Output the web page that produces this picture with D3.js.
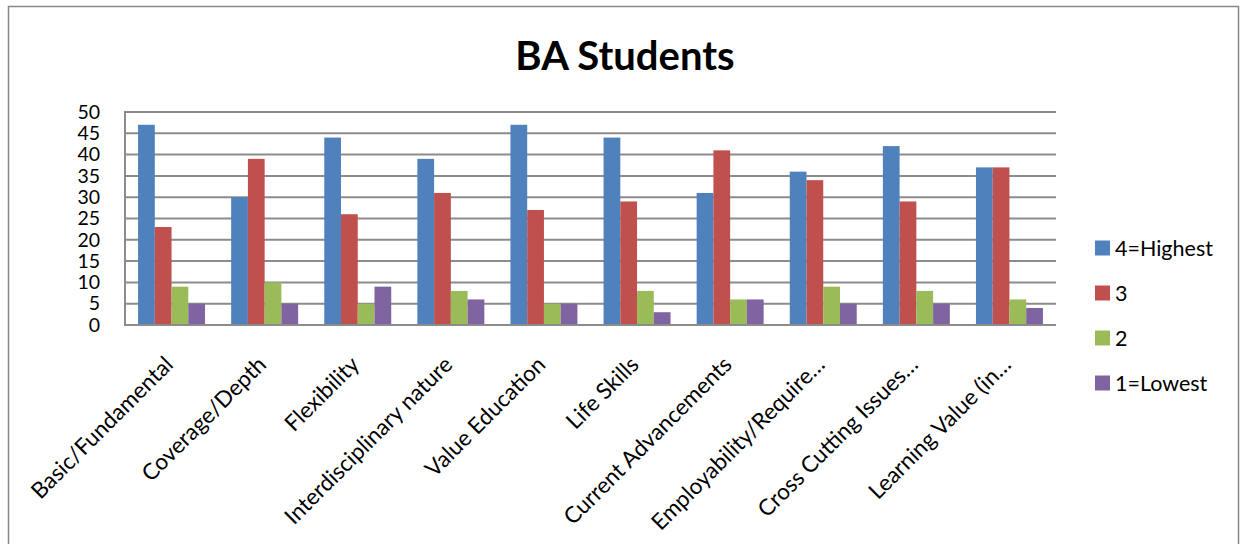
<!DOCTYPE html>
<html><head><meta charset="utf-8">
<script src="https://cdn.jsdelivr.net/npm/d3@7"></script>
<style>body{margin:0;background:#fff}svg{display:block}text{font-family:Lato,"Open Sans",sans-serif}</style>
</head><body><svg id="c" width="1243" height="544"></svg>
<script>
const categories = ["Basic/Fundamental","Coverage/Depth","Flexibility","Interdisciplinary nature","Value Education","Life Skills","Current Advancements","Employability/Require…","Cross Cutting Issues…","Learning Value (in…"];
const seriesNames = ["4=Highest","3","2","1=Lowest"];
const highest = [47,30,44,39,47,44,31,36,42,37];
const three   = [23,39,26,31,27,29,41,34,29,37];
const two     = [9,10,5,8,5,8,6,9,8,6];
const lowest  = [5,5,9,6,5,3,6,5,5,4];
const yTicks = [0,5,10,15,20,25,30,35,40,45,50];
const colors = ["#4F81BD","#C0504D","#9BBB59","#8064A2"];
const title = "BA Students";

const series = [highest, three, two, lowest];
const svg = d3.select("#c");
const L=125, R=1056, T=112, B=325;

svg.append("rect").attr("x",8.5).attr("y",6.5).attr("width",1230).attr("height",560)
  .attr("fill","none").attr("stroke","#888").attr("stroke-width",1.5);

svg.append("text").attr("x",625).attr("y",70).attr("text-anchor","middle")
  .attr("font-size",40).attr("font-weight","bold").attr("fill","#000").text(title);

const x0 = d3.scaleBand().domain(categories).range([L,R]).padding(0);
const x1 = d3.scaleBand().domain(d3.range(4)).range([0,x0.bandwidth()]).paddingOuter(0.78).paddingInner(0);
const y = d3.scaleLinear().domain([0,50]).range([B,T]);

svg.append("g").selectAll("line").data(yTicks.filter(d=>d>0)).join("line")
  .attr("x1",L).attr("x2",R).attr("y1",d=>y(d)).attr("y2",d=>y(d))
  .attr("stroke","#8c8c8c").attr("stroke-width",2);

const g = svg.append("g");
categories.forEach((c,i)=>{
  series.forEach((s,j)=>{
    g.append("rect").attr("x",x0(c)+x1(j)).attr("width",x1.bandwidth())
      .attr("y",y(s[i])).attr("height",y(0)-y(s[i])).attr("fill",colors[j]);
  });
});

svg.append("line").attr("x1",L).attr("x2",R).attr("y1",B).attr("y2",B).attr("stroke","#8c8c8c").attr("stroke-width",2);
svg.append("line").attr("x1",L).attr("x2",L).attr("y1",T-1).attr("y2",B+1).attr("stroke","#8c8c8c").attr("stroke-width",2);

const ya = d3.axisLeft(y).tickValues(yTicks).tickSize(0).tickPadding(0);
const yg = svg.append("g").attr("transform",`translate(${L-25},0)`).call(ya);
yg.select(".domain").remove();
yg.selectAll("text").attr("font-size",19.5).attr("fill","#000").style("font-family","Lato,'Open Sans',sans-serif");

svg.append("g").selectAll("text").data(categories).join("text")
  .attr("transform",d=>`translate(${x0(d)+x0.bandwidth()/2+3},366) rotate(-45)`)
  .attr("text-anchor","end").attr("font-size",22.5).attr("fill","#000").text(d=>d);

const lg = svg.append("g");
seriesNames.forEach((n,j)=>{
  const cy = 248 + j*45;
  lg.append("rect").attr("x",1095).attr("y",cy-7.5).attr("width",15).attr("height",15).attr("fill",colors[j]);
  lg.append("text").attr("x",1115).attr("y",cy).attr("dy","0.36em").attr("font-size",21.5).attr("fill","#000").text(n);
});
</script></body></html>
